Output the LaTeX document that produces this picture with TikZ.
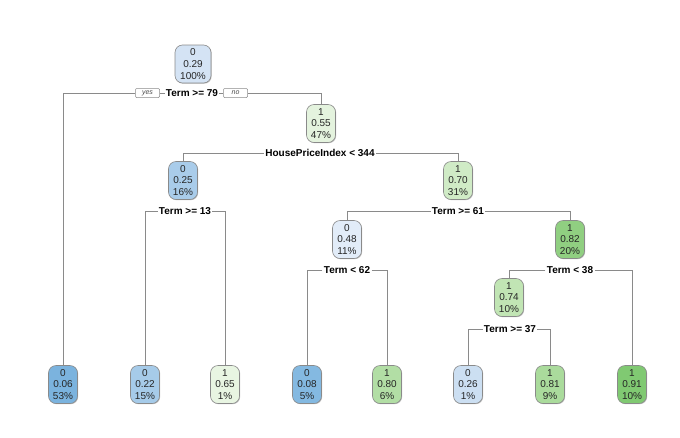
\documentclass[tikz,border=0pt]{standalone}
\usepackage{fontspec}
\setmainfont{Liberation Sans}
\usetikzlibrary{shadows,backgrounds}

% fill colours: blues for class 0, greens for class 1
\definecolor{b06}{HTML}{7BB3DE}
\definecolor{b08}{HTML}{84B9E1}
\definecolor{b22}{HTML}{A6CBE9}
\definecolor{b25}{HTML}{A9CCEA}
\definecolor{b26}{HTML}{CCDFF2}
\definecolor{b29}{HTML}{D4E3F4}
\definecolor{b48}{HTML}{E2ECF8}
\definecolor{g55}{HTML}{E4F3DE}
\definecolor{g65}{HTML}{E8F5E2}
\definecolor{g70}{HTML}{D0EBC6}
\definecolor{g74}{HTML}{C1E5B4}
\definecolor{g80}{HTML}{B2DEA5}
\definecolor{g81}{HTML}{AADB9C}
\definecolor{g82}{HTML}{90CF81}
\definecolor{g91}{HTML}{80C972}
\definecolor{edge}{HTML}{8A8A8A}

\tikzset{
  x=1pt, y=-1pt,
  leaf/.style={draw=edge, line width=0.6pt, rounded corners=7.5pt,
    minimum width=29pt, minimum height=38pt, inner xsep=1pt, inner ysep=1.5pt,
    align=center, text=black!85,
    font=\fontsize{10}{11.6}\selectfont,
    general shadow={fill=black!25, shadow xshift=0.7pt, shadow yshift=-0.7pt}},
  split/.style={fill=white, inner sep=1.2pt, font=\bfseries\fontsize{10}{12}\selectfont},
  tag/.style={draw=edge, line width=0.5pt, rounded corners=1pt, fill=white,
    inner sep=0pt, minimum width=24pt, minimum height=9pt,
    font=\itshape\fontsize{7}{8}\selectfont, text=black!70},
  link/.style={draw=edge, line width=0.7pt},
}

\begin{document}
\begin{tikzpicture}
\useasboundingbox (0,0) rectangle (680,437);

% inner nodes
\node[leaf, fill=b29, minimum width=36pt] (n1) at (193,64) {0\\0.29\\100\%};
\node[leaf, fill=g55] (n3) at (321,123.5) {1\\0.55\\47\%};
\node[leaf, fill=b25] (n6) at (183,180.5) {0\\0.25\\16\%};
\node[leaf, fill=g70] (n7) at (458,180.5) {1\\0.70\\31\%};
\node[leaf, fill=b48] (n14) at (347,239.5) {0\\0.48\\11\%};
\node[leaf, fill=g82] (n15) at (570,239.5) {1\\0.82\\20\%};
\node[leaf, fill=g74] (n30) at (509,297.5) {1\\0.74\\10\%};

% leaves
\node[leaf, fill=b06] (l1) at (63,384.5) {0\\0.06\\53\%};
\node[leaf, fill=b22] (l2) at (145,384.5) {0\\0.22\\15\%};
\node[leaf, fill=g65] (l3) at (225,384.5) {1\\0.65\\1\%};
\node[leaf, fill=b08] (l4) at (307,384.5) {0\\0.08\\5\%};
\node[leaf, fill=g80] (l5) at (387,384.5) {1\\0.80\\6\%};
\node[leaf, fill=b26] (l6) at (468,384.5) {0\\0.26\\1\%};
\node[leaf, fill=g81] (l7) at (550,384.5) {1\\0.81\\9\%};
\node[leaf, fill=g91] (l8) at (632,384.5) {1\\0.91\\10\%};

% split labels
\node[split] (s1) at (192,93) {Term >= 79};
\node[tag] (yes) at (147.5,93) {yes};
\node[tag] (no) at (235.5,93) {no};
\node[split] (s3) at (320,153) {HousePriceIndex < 344};
\node[split] (s6) at (185,211) {Term >= 13};
\node[split] (s7) at (458,211) {Term >= 61};
\node[split] (s14) at (347,270) {Term < 62};
\node[split] (s15) at (570,270) {Term < 38};
\node[split] (s30) at (510,329) {Term >= 37};

% branches
\begin{scope}[on background layer]
\draw[link] (s1.west) -- (yes.east);
\draw[link] (s1.east) -- (no.west);
\draw[link] (yes.west) -| (l1.north);
\draw[link] (no.east) -| (n3.north);
\draw[link] (s3.west) -| (n6.north);
\draw[link] (s3.east) -| (n7.north);
\draw[link] (s6.west) -| (l2.north);
\draw[link] (s6.east) -| (l3.north);
\draw[link] (s7.west) -| (n14.north);
\draw[link] (s7.east) -| (n15.north);
\draw[link] (s14.west) -| (l4.north);
\draw[link] (s14.east) -| (l5.north);
\draw[link] (s15.west) -| (n30.north);
\draw[link] (s15.east) -| (l8.north);
\draw[link] (s30.west) -| (l6.north);
\draw[link] (s30.east) -| (l7.north);
\end{scope}
\end{tikzpicture}
\end{document}
